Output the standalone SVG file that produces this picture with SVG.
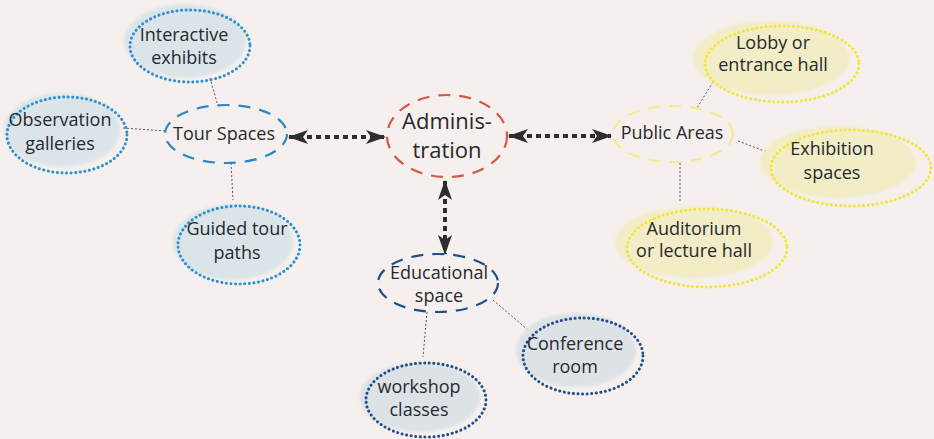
<svg xmlns="http://www.w3.org/2000/svg" width="934" height="439" viewBox="0 0 934 439">
<defs>
<filter id="soft" x="-10%" y="-10%" width="120%" height="120%"><feGaussianBlur stdDeviation="1.5"/></filter>
<marker id="ah" viewBox="0 0 20 14" refX="19" refY="7" markerWidth="20" markerHeight="14" markerUnits="userSpaceOnUse" orient="auto-start-reverse">
<path d="M0,0 L20,7 L0,14 L5,7 Z" fill="#2e2e2e"/>
</marker>
</defs>
<style>
text{font-family:"Open Sans","Liberation Sans",sans-serif;font-size:18px;fill:#262a2e;text-anchor:middle}
.big{font-size:22px}
.fb{fill:#dbe5e9}
.fn{fill:#dde2e6}
.fy{fill:#f2edc6}
.db{fill:none;stroke:#2b8fd0;stroke-width:3;stroke-dasharray:0.1 4.5;stroke-linecap:round}
.dn{fill:none;stroke:#1e4f8d;stroke-width:3;stroke-dasharray:0.1 4.5;stroke-linecap:round}
.dy{fill:none;stroke:#f3e63a;stroke-width:3;stroke-dasharray:0.1 4.5;stroke-linecap:round}
.hub{fill:none;stroke-width:2.2;stroke-dasharray:12 9}
.thin{fill:none;stroke:#555;stroke-width:1;stroke-dasharray:2 2}
.arr{fill:none;stroke:#2e2e2e;stroke-width:4;stroke-dasharray:5 4}
</style>
<rect width="934" height="439" fill="#f5f0ed"/>

<g id="connectors">
<line class="thin" x1="210" y1="78" x2="218" y2="106"/>
<line class="thin" x1="123" y1="128" x2="166" y2="131"/>
<line class="thin" x1="231" y1="163" x2="233" y2="200"/>
<line class="thin" x1="713" y1="82" x2="697" y2="108"/>
<line class="thin" x1="738" y1="141" x2="767" y2="152"/>
<line class="thin" x1="680" y1="163" x2="680" y2="203"/>
<line class="thin" x1="493" y1="300" x2="528" y2="330"/>
<line class="thin" x1="427" y1="312" x2="423" y2="357"/>
<line class="arr" x1="289" y1="137" x2="385" y2="137" marker-start="url(#ah)" marker-end="url(#ah)"/>
<line class="arr" x1="509" y1="136" x2="611" y2="136" marker-start="url(#ah)" marker-end="url(#ah)"/>
<line class="arr" x1="445" y1="181" x2="445" y2="254" marker-start="url(#ah)" marker-end="url(#ah)"/>
</g>

<g id="interactive-exhibits">
<ellipse class="fb" cx="185" cy="41" rx="61" ry="37" filter="url(#soft)"/>
<ellipse class="db" cx="190" cy="46" rx="60" ry="36"/>
<text x="184" y="41">Interactive</text>
<text x="184" y="64">exhibits</text>
</g>

<g id="observation-galleries">
<ellipse class="fb" cx="62" cy="130" rx="58" ry="37" filter="url(#soft)"/>
<ellipse class="db" cx="67" cy="135" rx="60" ry="38"/>
<text x="60" y="126">Observation</text>
<text x="60" y="150">galleries</text>
</g>

<g id="tour-spaces">
<ellipse cx="226" cy="134" rx="61" ry="29" class="hub" stroke="#2a88c8"/>
<text x="224" y="140">Tour Spaces</text>
</g>

<g id="guided-tour-paths">
<ellipse class="fb" cx="233" cy="242" rx="60" ry="38" filter="url(#soft)"/>
<ellipse class="db" cx="239" cy="245" rx="61" ry="39"/>
<text x="237" y="235">Guided tour</text>
<text x="237" y="259">paths</text>
</g>

<g id="administration">
<ellipse cx="447" cy="136" rx="60" ry="41" class="hub" stroke="#d4574a"/>
<text class="big" x="447" y="129">Adminis-</text>
<text class="big" x="447" y="158">tration</text>
</g>

<g id="public-areas">
<ellipse cx="673" cy="134" rx="60" ry="28" class="hub" stroke="#f3ec8e"/>
<text x="672" y="139">Public Areas</text>
</g>

<g id="lobby">
<ellipse class="fy" cx="771" cy="58" rx="78" ry="37" filter="url(#soft)"/>
<ellipse class="dy" cx="782" cy="64" rx="77" ry="38"/>
<text x="773" y="49">Lobby or</text>
<text x="773" y="71">entrance hall</text>
</g>

<g id="exhibition-spaces">
<ellipse class="fy" cx="838" cy="162" rx="78" ry="36" filter="url(#soft)"/>
<ellipse class="dy" cx="851" cy="168" rx="80" ry="38"/>
<text x="832" y="155">Exhibition</text>
<text x="832" y="179">spaces</text>
</g>

<g id="auditorium">
<ellipse class="fy" cx="694" cy="242" rx="79" ry="36" filter="url(#soft)"/>
<ellipse class="dy" cx="707" cy="248" rx="80" ry="39"/>
<text x="694" y="235">Auditorium</text>
<text x="694" y="257">or lecture hall</text>
</g>

<g id="educational-space">
<ellipse cx="438" cy="283" rx="60" ry="29" class="hub" stroke="#1e4f8d"/>
<text x="439" y="279">Educational</text>
<text x="439" y="302">space</text>
</g>

<g id="conference-room">
<ellipse class="fn" cx="576" cy="350" rx="60" ry="37" filter="url(#soft)"/>
<ellipse class="dn" cx="583" cy="356" rx="60" ry="38"/>
<text x="575" y="350">Conference</text>
<text x="575" y="373">room</text>
</g>

<g id="workshop-classes">
<ellipse class="fn" cx="420" cy="397" rx="60" ry="35" filter="url(#soft)"/>
<ellipse class="dn" cx="426" cy="400" rx="60" ry="37"/>
<text x="419" y="393">workshop</text>
<text x="419" y="416">classes</text>
</g>
</svg>
